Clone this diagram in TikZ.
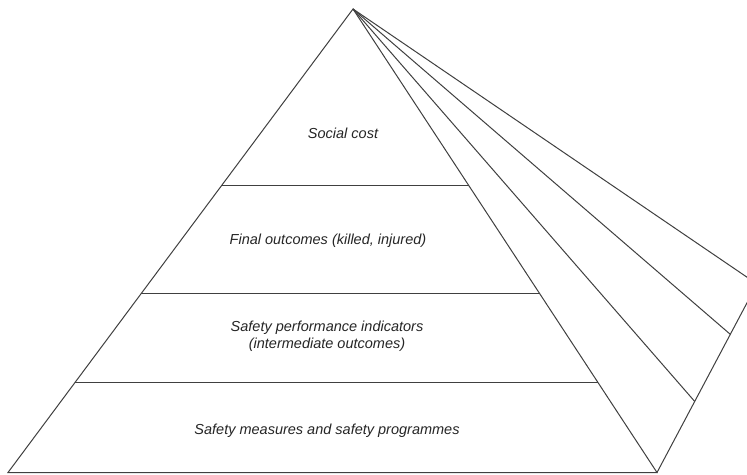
\documentclass[tikz,border=0pt]{standalone}
\usepackage{fontspec}
\setmainfont{Liberation Sans}
\usetikzlibrary{calc}
\begin{document}
\begin{tikzpicture}[x=1pt, y=-1pt,
  every node/.style={align=center, font=\fontsize{14.5}{17}\selectfont\itshape, text=black!85},
  edge/.style={black!75, line width=1pt}]
  \clip (0,0) rectangle (747,474);
  \fill[white] (0,0) rectangle (747,474);

  % Corners of the pyramid
  \coordinate (apex) at (353,9);
  \coordinate (baseL) at (8,472.5);
  \coordinate (baseR) at (657,472.5);
  \coordinate (back) at (757,284);

  % Front face with its levels
  \draw[edge] (apex) -- (baseL) -- (baseR) -- cycle;
  \foreach \f in {0.3815, 0.6142, 0.806}
    \draw[edge] ($(apex)!\f!(baseL)$) -- ($(apex)!\f!(baseR)$);

  % Side face: rays from the apex to the back edge
  \draw[edge] (apex) -- (back) -- (baseR);
  \coordinate (ray1) at ($(back)!0.267!(baseR)$);
  \coordinate (ray2) at ($(back)!0.623!(baseR)$);
  \draw[edge] (apex) -- (ray1);
  \draw[edge] (apex) -- (ray2);

  % Labels
  \node (social) at (343,133) {Social cost};
  \node (final) at (328,241) {Final outcomes (killed, injured)};
  \node (spi) at (327,336) {Safety performance indicators\\(intermediate outcomes)};
  \node (measures) at (327,431) {Safety measures and safety programmes};
\end{tikzpicture}
\end{document}
